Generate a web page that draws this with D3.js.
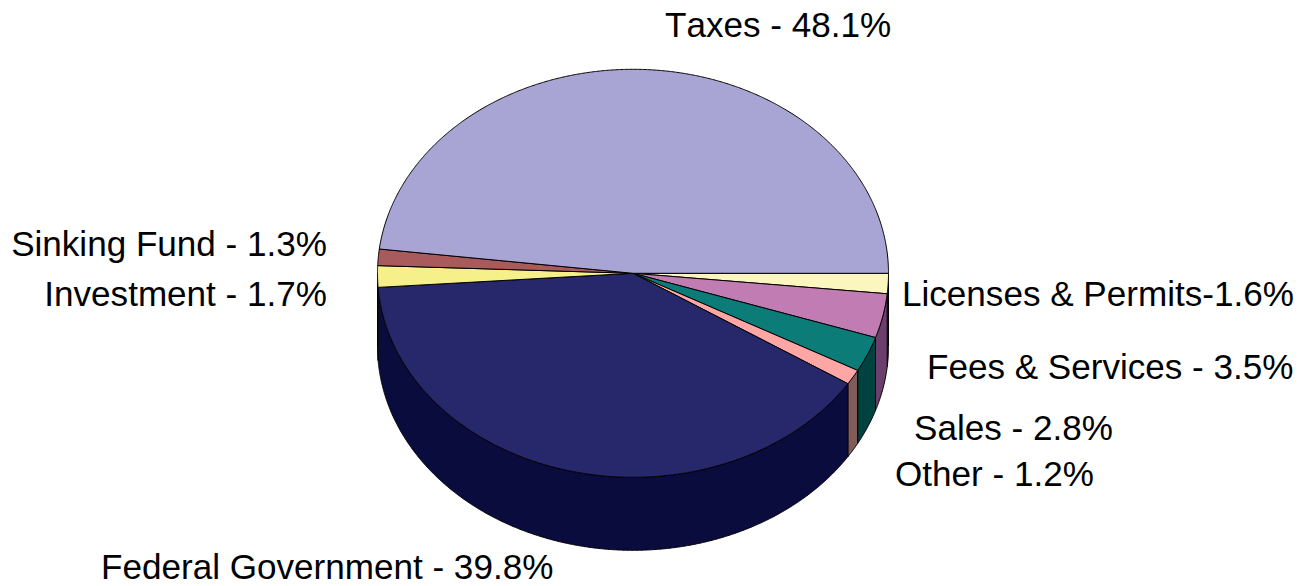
<!DOCTYPE html>
<html>
<head>
<meta charset="utf-8">
<script src="https://cdn.jsdelivr.net/npm/d3@7"></script>
<style>
  html, body { margin: 0; padding: 0; background: #fff; }
  svg { display: block; }
  text { font-family: "Liberation Sans", Arial, sans-serif; font-size: 35.1px; font-kerning: none; fill: #000; }
</style>
</head>
<body>
<svg id="chart" width="1310" height="586"></svg>
<script>
// Revenue sources, listed clockwise from the 3 o'clock position.
const categories = ["Licenses & Permits", "Fees & Services", "Sales", "Other", "Federal Government", "Investment", "Sinking Fund", "Taxes"];
const shares = [1.6, 3.5, 2.8, 1.2, 39.8, 1.7, 1.3, 48.1];
const topColors = ["#FAF6BE", "#C17CB4", "#0B7C78", "#FDA6A6", "#27276B", "#F6F08A", "#A85A5C", "#A8A4D4"];
const sideColors = ["#7D7B5F", "#6B3F6C", "#004240", "#815A5A", "#0A0C3E", "#7B7845", "#542D2E", "#54526A"];
const labels = ["Licenses & Permits-1.6%", "Fees & Services - 3.5%", "Sales - 2.8%", "Other - 1.2%", "Federal Government - 39.8%", "Investment - 1.7%", "Sinking Fund - 1.3%", "Taxes - 48.1%"];
const labelAnchors = [[902, 306, "start"], [927, 379, "start"], [914, 440, "start"], [895, 486, "start"], [101, 579, "start"], [327, 306, "end"], [327, 256, "end"], [665, 37, "start"]];

const cx = 633, cy = 273.3, rx = 255.5, ry = 204, depth = 73;

// Percent of the full turn to angle, measured clockwise on screen from east.
const angle = d3.scaleLinear().domain([0, 100]).range([0, 2 * Math.PI]);
const xPos = d3.scaleLinear().domain([-1, 1]).range([cx - rx, cx + rx]);
const yPos = d3.scaleLinear().domain([-1, 1]).range([cy - ry, cy + ry]);

const ends = Array.from(d3.cumsum(shares), v => Math.min(v, 100));
const slices = shares.map((v, i) => ({
  index: i,
  a0: angle(i ? ends[i - 1] : 0),
  a1: angle(ends[i])
}));

// Sampled points along the rim between two angles.
const rim = (a0, a1, dy = 0) => {
  const n = Math.max(2, Math.ceil((a1 - a0) / 0.005));
  return d3.range(n + 1).map(k => {
    const a = a0 + (a1 - a0) * k / n;
    return [xPos(Math.cos(a)), yPos(Math.sin(a)) + dy];
  });
};
const line = d3.line();
const svg = d3.select("#chart");

// Side walls exist only on the near half of the rim (0 to 180 degrees).
const walls = slices
  .map(s => ({ ...s, w0: s.a0, w1: Math.min(s.a1, Math.PI) }))
  .filter(s => s.w0 < Math.PI);

svg.append("g").selectAll("path").data(walls).join("path")
  .attr("d", s => line([...rim(s.w0, s.w1), ...rim(s.w0, s.w1, depth).reverse()]) + "Z")
  .attr("fill", s => sideColors[s.index])
  .attr("stroke", "#000")
  .attr("stroke-width", 1)
  .attr("stroke-linejoin", "round");

// Top face wedges.
svg.append("g").selectAll("path").data(slices).join("path")
  .attr("d", s => line([[cx, cy], ...rim(s.a0, s.a1)]) + "Z")
  .attr("fill", s => topColors[s.index])
  .attr("stroke", "#000")
  .attr("stroke-width", 1)
  .attr("stroke-linejoin", "round");

svg.append("g").selectAll("text").data(labels).join("text")
  .attr("x", (d, i) => labelAnchors[i][0])
  .attr("y", (d, i) => labelAnchors[i][1])
  .attr("text-anchor", (d, i) => labelAnchors[i][2])
  .text(d => d);
</script>
</body>
</html>
